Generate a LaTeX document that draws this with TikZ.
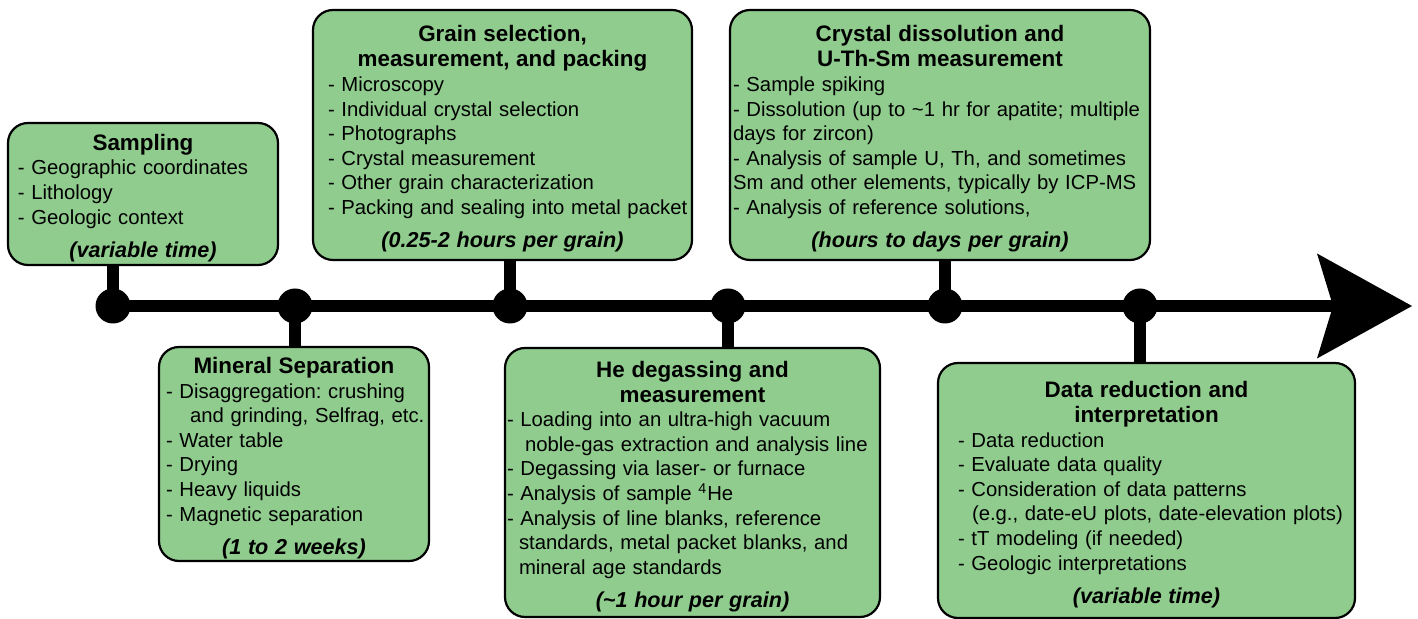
\documentclass[tikz,border=0pt]{standalone}
\usepackage{fontspec}
\setmainfont{Liberation Sans}
\usetikzlibrary{arrows.meta}
\definecolor{stagegreen}{RGB}{144,204,142}
\frenchspacing
\newcommand{\bodyfont}{\fontsize{10.15pt}{12.3pt}\selectfont}
\newcommand{\titlefont}{\fontsize{11.2pt}{12.5pt}\selectfont\bfseries}
\newcommand{\timefont}{\fontsize{10.8pt}{12.5pt}\selectfont\bfseries\itshape}
\newcommand{\stagetitle}[1]{{\titlefont\rule{0pt}{12pt}#1\par}}
\newcommand{\stagelist}[2]{{\leftskip=#1\relax\rightskip=0pt plus 1fil\relax\bodyfont #2\par}}
\newcommand{\stagetime}[1]{\vspace{4pt}{\timefont #1\par}}

\begin{document}
\begin{tikzpicture}[x=0.5pt, y=-0.5pt,
    stage/.style={draw=black, line width=1.1pt, fill=stagegreen, rounded corners=10pt,
        inner xsep=0pt, inner ysep=0pt, align=center},
    stagedot/.style={circle, fill=black, inner sep=0pt, minimum size=17.5pt},
    stemline/.style={line width=6pt},
    timeline/.style={line width=6pt, -{Stealth[length=47.5pt, width=52.5pt, inset=8pt, line width=0pt]}}]
    \useasboundingbox (0,0) rectangle (1418,619);

    % Stages above the timeline
    \node[stage, text width=135pt, minimum height=71pt] (samp) at (143,194) {%
        \stagetitle{Sampling}
        \stagelist{5pt}{- Geographic coordinates\\
            - Lithology\\
            - Geologic context}
        \stagetime{(variable time)}};
    \node[stage, text width=189.5pt, minimum height=125pt] (grain) at (502.5,135) {%
        \stagetitle{Grain selection,\\ measurement, and packing}
        \stagelist{7.5pt}{- Microscopy\\
            - Individual crystal selection\\
            - Photographs\\
            - Crystal measurement\\
            - Other grain characterization\\
            - Packing and sealing into metal packet}
        \stagetime{(0.25-2 hours per grain)}};
    \node[stage, text width=210pt, minimum height=125pt] (cryst) at (940,135) {%
        \stagetitle{Crystal dissolution and\\ U-Th-Sm measurement}
        \stagelist{1.5pt}{- Sample spiking\\
            - Dissolution (up to \textasciitilde1 hr for apatite; multiple\\
            days for zircon)\\
            - Analysis of sample U, Th, and sometimes\\
            Sm and other elements, typically by ICP-MS\\
            - Analysis of reference solutions,}
        \stagetime{(hours to days per grain)}};

    % Stages below the timeline
    \node[stage, text width=135pt, minimum height=107pt] (minsep) at (294,454) {%
        \stagetitle{Mineral Separation}
        \stagelist{3.5pt}{- Disaggregation: crushing\\
            \hspace*{12pt}and grinding, Selfrag, etc.\\
            - Water table\\
            - Drying\\
            - Heavy liquids\\
            - Magnetic separation}
        \stagetime{(1 to 2 weeks)}};
    \node[stage, text width=187.5pt, minimum height=134.5pt] (hedeg) at (692.5,482.5) {%
        \stagetitle{He degassing and\\ measurement}
        \stagelist{1pt}{- Loading into an ultra-high vacuum\\
            \hspace*{9pt}noble-gas extraction and analysis line\\
            - Degassing via laser- or furnace\\
            - Analysis of sample \textsuperscript{4}He\\
            - Analysis of line blanks, reference\\
            \hspace*{6pt}standards, metal packet blanks, and\\
            \hspace*{6pt}mineral age standards}
        \stagetime{(\textasciitilde1 hour per grain)}};
    \node[stage, text width=208.5pt, minimum height=127.5pt] (datared) at (1146.5,490.5) {%
        \stagetitle{Data reduction and\\ interpretation}
        \stagelist{10pt}{- Data reduction\\
            - Evaluate data quality\\
            - Consideration of data patterns\\
            \hspace*{7pt}(e.g., date-eU plots, date-elevation plots)\\
            - tT modeling (if needed)\\
            - Geologic interpretations}
        \stagetime{(variable time)}};

    % Timeline
    \node[stagedot] (d1) at (113,306) {};
    \node[stagedot] (d2) at (295,306) {};
    \node[stagedot] (d3) at (510,306) {};
    \node[stagedot] (d4) at (728,306) {};
    \node[stagedot] (d5) at (945,306) {};
    \node[stagedot] (d6) at (1140,306) {};
    \coordinate (tip) at (1412,306);
    \draw[timeline] (d1.center) -- (tip);

    % Stems
    \draw[stemline] (d1.center) -- (d1 |- samp.south);
    \draw[stemline] (d2.center) -- (d2 |- minsep.north);
    \draw[stemline] (d3.center) -- (d3 |- grain.south);
    \draw[stemline] (d4.center) -- (d4 |- hedeg.north);
    \draw[stemline] (d5.center) -- (d5 |- cryst.south);
    \draw[stemline] (d6.center) -- (d6 |- datared.north);
\end{tikzpicture}
\end{document}
